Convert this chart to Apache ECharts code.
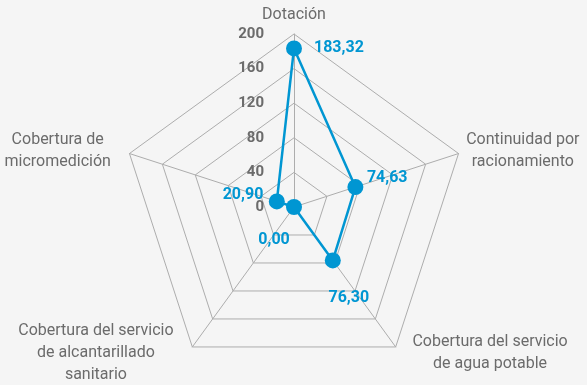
<!DOCTYPE html>
<html>
<head>
<meta charset="utf-8">
<script src="https://cdn.jsdelivr.net/npm/echarts@6/dist/echarts.min.js"></script>
<style>
  html, body { margin: 0; padding: 0; background: #f5f5f5; }
  #chart { width: 587px; height: 385px; }
</style>
</head>
<body>
<div id="chart"></div>
<script>
// indicators go counter-clockwise from the top
const indicators = [
    'Dotación',
    'Cobertura de\nmicromedición',
    'Cobertura del servicio\nde alcantarillado\nsanitario',
    'Cobertura del servicio\nde agua potable',
    'Continuidad por\nracionamiento'
];
const values = [183.32, 20.90, 0.00, 76.30, 74.63];
const axisMax = 200;

const FONT = "Roboto, 'Liberation Sans', sans-serif";
const BLUE = '#0096d2';
const GRAY = '#6b6b6b';

// where each value label sits around its point
const labelPlace = [
    { position: 'right', distance: 12, offset: [0, 0] },
    { position: 'left', distance: 13, offset: [0, -6] },
    { position: 'bottom', distance: 24, offset: [-20, 0] },
    { position: 'bottom', distance: 29, offset: [16, 0] },
    { position: 'right', distance: 11, offset: [0, -9] }
];
// rich style key per indicator name (extra room between name and vertex)
const nameStyle = ['c', 'l', 'bl', 'br', 'c'];

function fmt(v) {
    return v.toFixed(2).replace('.', ',');
}

const nameBase = { align: 'center', color: GRAY, fontFamily: FONT, fontSize: 16, lineHeight: 22 };

const myChart = echarts.init(document.getElementById('chart'));

const option = {
    backgroundColor: '#f5f5f5',
    radar: {
        center: [294, 207],
        radius: 173,
        startAngle: 90,
        splitNumber: 5,
        shape: 'polygon',
        indicator: indicators.map((name, i) => ({
            name: name,
            min: 0,
            max: axisMax,
            axisLabel: i === 0 ? { show: true } : undefined
        })),
        axisName: {
            color: GRAY,
            fontFamily: FONT,
            fontSize: 16,
            lineHeight: 22,
            formatter: (name) => {
                const key = nameStyle[indicators.indexOf(name)] || 'c';
                return name.split('\n').map(s => '{' + key + '|' + s + '}').join('\n');
            },
            rich: {
                c: nameBase,
                l: Object.assign({}, nameBase, { padding: [0, 11, 0, 0] }),
                bl: Object.assign({}, nameBase, { padding: [0, 14, 0, 0] }),
                br: Object.assign({}, nameBase, { padding: [0, 0, 0, 12] })
            }
        },
        nameGap: 8,
        axisLine: { lineStyle: { color: '#adadad', width: 1 } },
        splitLine: { lineStyle: { color: '#adadad', width: 1 } },
        splitArea: { show: false },
        axisTick: { show: false },
        axisLabel: {
            show: false,
            color: GRAY,
            fontFamily: FONT,
            fontSize: 15,
            fontWeight: 'bold',
            margin: 30
        }
    },
    series: [{
        type: 'radar',
        symbol: 'circle',
        symbolSize: 16,
        lineStyle: { color: BLUE, width: 2.5 },
        itemStyle: { color: BLUE },
        label: {
            show: true,
            color: BLUE,
            fontFamily: FONT,
            fontSize: 16,
            fontWeight: 'bold',
            formatter: (p) => values.indexOf(p.value) === p.dataIndex ? fmt(p.value) : ''
        },
        data: labelPlace.map((pl, k) => ({
            value: values,
            symbolSize: k === 0 ? 16 : 1,
            itemStyle: k === 0 ? undefined : { color: 'rgba(0,0,0,0)' },
            lineStyle: k === 0 ? undefined : { width: 0, opacity: 0 },
            label: { position: pl.position, distance: pl.distance, offset: pl.offset }
        }))
    }]
};

myChart.setOption(option);
</script>
</body>
</html>
